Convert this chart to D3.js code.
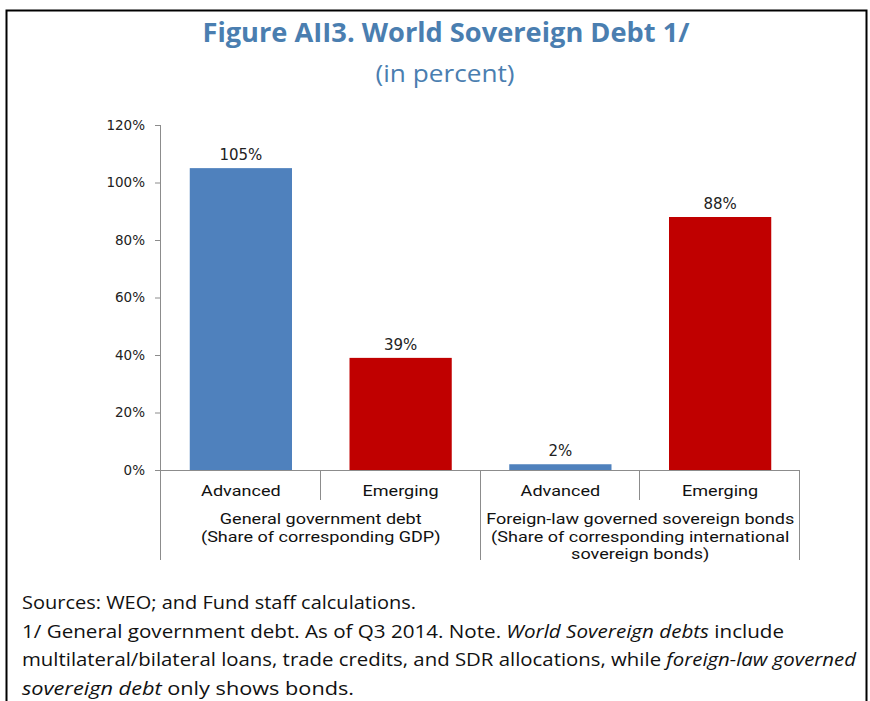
<!DOCTYPE html>
<html>
<head>
<meta charset="utf-8">
<script src="https://cdn.jsdelivr.net/npm/d3@7"></script>
<style>
  html, body { margin: 0; padding: 0; background: #fff; }
  svg { display: block; }
</style>
</head>
<body>
<svg id="chart" width="870" height="701"></svg>
<script>
// Chart data
const categories = ["Advanced", "Emerging", "Advanced", "Emerging"];
const values = [105, 39, 2, 88];
const barColors = ["#4f81bd", "#c00000", "#4f81bd", "#c00000"];
const groupLabels = [
  ["General government debt", "(Share of corresponding GDP)"],
  ["Foreign-law governed sovereign bonds", "(Share of corresponding international", "sovereign bonds)"]
];
const yTicks = [0, 20, 40, 60, 80, 100, 120];

const titleText = "Figure AII3. World Sovereign Debt 1/";
const subtitleText = "(in percent)";
const noteLines = [
  [{ t: "Sources: WEO; and Fund staff calculations.", i: false }],
  [{ t: "1/ General government debt. As of Q3 2014. Note. ", i: false },
   { t: "World Sovereign debts", i: true },
   { t: " include", i: false }],
  [{ t: "multilateral/bilateral loans, trade credits, and SDR allocations, while ", i: false },
   { t: "foreign-law governed", i: true }],
  [{ t: "sovereign debt", i: true },
   { t: " only shows bonds.", i: false }]
];

const svg = d3.select("#chart");
const axisColor = "#8c8c8c";
const textFont = "'Open Sans', 'Noto Sans', sans-serif";
const labelFont = "Roboto, 'Liberation Sans', sans-serif";
const tickFont = "'DejaVu Sans', Verdana, sans-serif";

// Frame around the figure (open at the bottom)
svg.append("path")
  .attr("d", "M6.5,701 L6.5,10.5 L866.5,10.5 L866.5,701")
  .attr("fill", "none")
  .attr("stroke", "#000")
  .attr("stroke-width", 2);

// Titles
svg.append("text")
  .attr("x", 446).attr("y", 42)
  .attr("text-anchor", "middle")
  .attr("font-family", textFont)
  .attr("font-weight", 700)
  .attr("font-size", 26)
  .attr("fill", "#4a7eb0")
  .attr("textLength", 487)
  .attr("lengthAdjust", "spacingAndGlyphs")
  .text(titleText);

svg.append("text")
  .attr("x", 445).attr("y", 82)
  .attr("text-anchor", "middle")
  .attr("font-family", textFont)
  .attr("font-size", 23)
  .attr("fill", "#4a7eb0")
  .attr("textLength", 139)
  .attr("lengthAdjust", "spacingAndGlyphs")
  .text(subtitleText);

// Scales
const plotLeft = 161, plotRight = 800, plotBottom = 470, plotTop = 125;
const x = d3.scaleBand()
  .domain(d3.range(categories.length))
  .range([plotLeft, plotRight])
  .paddingInner(0.36)
  .paddingOuter(0.18);
const y = d3.scaleLinear().domain([0, 120]).range([plotBottom, plotTop]);
const step = x.step();

// Y axis
const yAxis = svg.append("g")
  .attr("transform", `translate(${plotLeft},0)`)
  .call(d3.axisLeft(y).tickValues(yTicks).tickSize(6).tickPadding(10).tickFormat(d => d + "%"));
yAxis.select(".domain").attr("stroke", axisColor).attr("d", `M-0.5,${plotTop}V560`);
yAxis.selectAll(".tick line").attr("stroke", axisColor);
yAxis.selectAll(".tick text")
  .attr("font-family", tickFont)
  .attr("font-size", 13.5)
  .attr("fill", "#222");

// Bars
svg.append("g").selectAll("rect")
  .data(values)
  .join("rect")
  .attr("x", (d, i) => x(i))
  .attr("y", d => y(d))
  .attr("width", x.bandwidth())
  .attr("height", d => y(0) - y(d))
  .attr("fill", (d, i) => barColors[i]);

// Value labels
svg.append("g").selectAll("text")
  .data(values)
  .join("text")
  .attr("x", (d, i) => x(i) + x.bandwidth() / 2)
  .attr("y", d => y(d) - 8)
  .attr("text-anchor", "middle")
  .attr("font-family", tickFont)
  .attr("font-size", 15)
  .attr("fill", "#222")
  .text(d => d + "%");

// X axis baseline and category separators
const xAxis = svg.append("g").attr("stroke", axisColor).attr("stroke-width", 1);
xAxis.append("line")
  .attr("x1", plotLeft - 6).attr("x2", plotRight)
  .attr("y1", plotBottom + 0.5).attr("y2", plotBottom + 0.5);
const boundaries = d3.range(categories.length + 1).map(i => plotLeft + i * step);
boundaries.forEach((bx, i) => {
  if (i === 0) return;
  const long = (i % 2 === 0);
  xAxis.append("line")
    .attr("x1", Math.round(bx) - 0.5).attr("x2", Math.round(bx) - 0.5)
    .attr("y1", plotBottom)
    .attr("y2", long ? 560 : 500);
});

// Axis labels are drawn slightly widened horizontally
const labelSize = 15;
const labelG = svg.append("g")
  .attr("font-family", labelFont)
  .attr("font-size", labelSize)
  .attr("fill", "#111")
  .attr("text-anchor", "middle");

// Category labels
const catTexts = labelG.append("g").selectAll("text")
  .data(categories)
  .join("text")
  .attr("x", (d, i) => x(i) + x.bandwidth() / 2)
  .attr("y", 496)
  .text(d => d);

// Group labels, one text per line
const groupTexts = [];
groupLabels.forEach((lines, g) => {
  const cx = plotLeft + step * (2 * g + 1);
  lines.forEach((line, k) => {
    groupTexts.push(labelG.append("text")
      .attr("x", cx)
      .attr("y", 524 + k * 17.7)
      .text(line));
  });
});

// Horizontal stretch so the widest group line spans its group
const widest = groupTexts[2].node().getComputedTextLength();
const stretch = 308 / widest;
labelG.selectAll("text").each(function () {
  const w = this.getComputedTextLength();
  d3.select(this)
    .attr("textLength", w * stretch)
    .attr("lengthAdjust", "spacingAndGlyphs");
});

// Notes below the chart
const notes = svg.append("g")
  .attr("font-family", textFont)
  .attr("font-size", 18.5)
  .attr("fill", "#111");
const noteWidths = [394, 762, 834, 332];
noteLines.forEach((parts, k) => {
  const t = notes.append("text")
    .attr("x", 22)
    .attr("y", 609 + k * 28.5);
  parts.forEach(p => {
    t.append("tspan")
      .attr("font-style", p.i ? "italic" : "normal")
      .text(p.t);
  });
  t.attr("textLength", noteWidths[k]).attr("lengthAdjust", "spacingAndGlyphs");
});
</script>
</body>
</html>
